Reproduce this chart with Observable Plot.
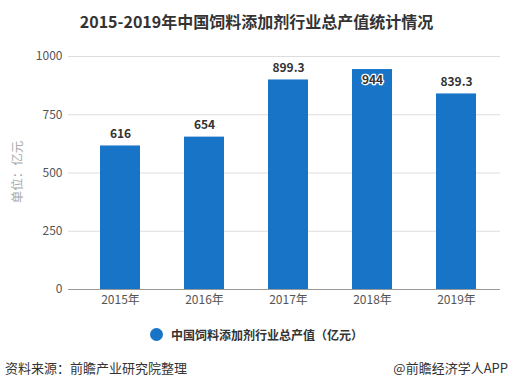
<!DOCTYPE html>
<html><head><meta charset="utf-8">
<script src="https://cdn.jsdelivr.net/npm/d3@7"></script>
<script src="https://cdn.jsdelivr.net/npm/@observablehq/plot@0.6"></script>
<style>
body{margin:0;background:#fff;font-family:"Microsoft YaHei","Noto Sans CJK SC",sans-serif;}
#wrap{position:relative;width:513px;height:391px;overflow:hidden;}
.title{position:absolute;top:9px;left:0;width:513px;text-align:center;font-size:16px;font-weight:bold;color:#333;}
#chart{position:absolute;top:40px;left:0;}
.legend{position:absolute;top:326px;left:150px;font-size:12px;font-weight:bold;color:#333;display:flex;align-items:center;}
.legend .dot{width:13px;height:13px;border-radius:50%;background:#1874c6;margin-right:8px;}
.src{position:absolute;top:358px;left:5px;font-size:13px;color:#333;}
.app{position:absolute;top:358px;right:5px;font-size:13px;color:#333;}
</style></head>
<body><div id="wrap">
<div class="title">2015-2019年中国饲料添加剂行业总产值统计情况</div>
<div id="chart"></div>
<div class="legend"><span class="dot"></span>中国饲料添加剂行业总产值（亿元）</div>
<div class="src">资料来源：前瞻产业研究院整理</div>
<div class="app">@前瞻经济学人APP</div>
</div>
<script>
const years = ["2015年","2016年","2017年","2018年","2019年"];
const values = [616, 654, 899.3, 944, 839.3];
const labels = ["616","654","899.3","944","839.3"];
const yTicks = [0, 250, 500, 750, 1000];

const data = years.map((y,i)=>({year:y, value:values[i], label:labels[i]}));
const above = data.filter(d=>d.value < 920);
const inside = data.filter(d=>d.value >= 920);

const plot = Plot.plot({
  width: 513, height: 270,
  marginTop: 16, marginBottom: 21, marginLeft: 78, marginRight: 15,
  style:{fontFamily:'"Microsoft YaHei","Noto Sans CJK SC",sans-serif', fontSize:"12px", color:"#555", background:"transparent"},
  x:{domain:years, paddingInner:0.52, paddingOuter:0.26, label:null, tickSize:0, tickPadding:6},
  y:{domain:[0,1000], ticks:yTicks, tickFormat:d3.format("d"), label:null, tickSize:0, tickPadding:16},
  marks:[
    Plot.ruleY(yTicks.filter(t=>t>0), {stroke:"#ddd", insetLeft:-10, insetRight:-2}),
    Plot.barY(data, {x:"year", y:"value", fill:"#1874c6"}),
    Plot.ruleY([0], {stroke:"#999", insetLeft:-10, insetRight:-2}),
    Plot.text(above, {x:"year", y:"value", text:"label", dy:-12, fontWeight:"bold", fontSize:12, fill:"#333"}),
    Plot.text(inside, {x:"year", y:"value", text:"label", dy:11, fontWeight:"bold", fontSize:12, fill:"#333", stroke:"#fff", strokeWidth:2.5})
  ]
});
document.getElementById("chart").appendChild(plot);

const svg = d3.select(plot);
svg.append("text")
  .attr("transform","translate(22,132) rotate(-90)")
  .attr("text-anchor","middle")
  .attr("fill","#aaa")
  .attr("font-size","12.5px")
  .text("单位：亿元");
</script>
</body></html>
